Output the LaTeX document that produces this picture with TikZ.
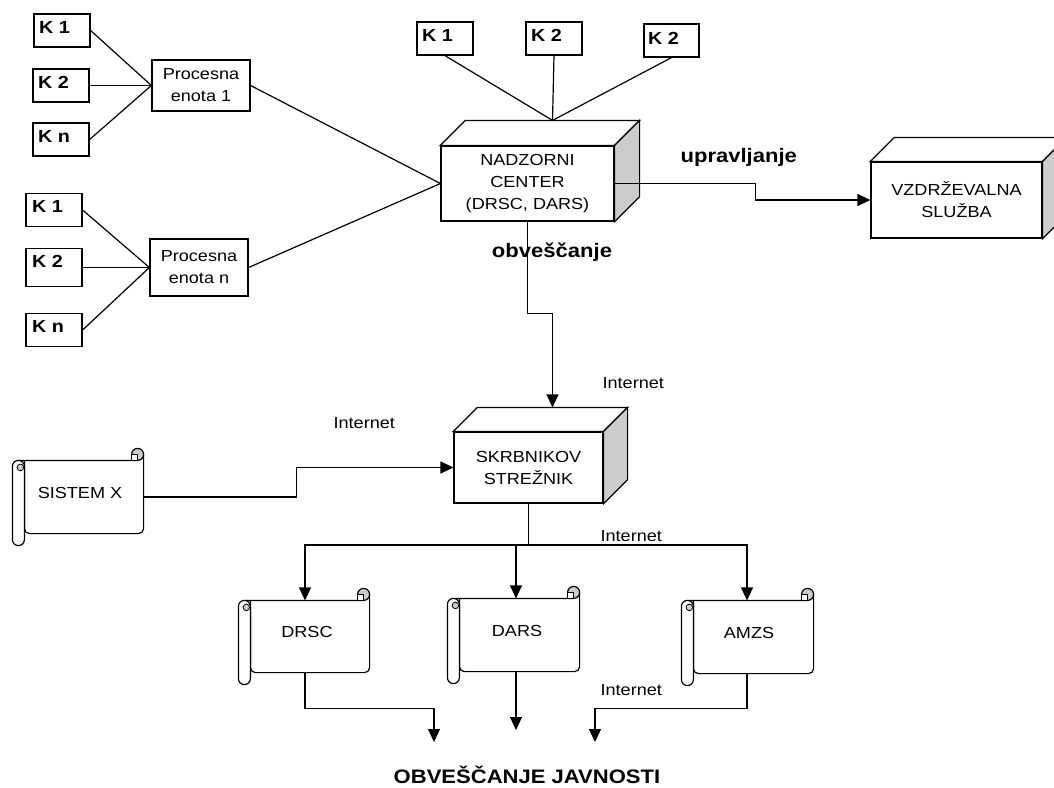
\documentclass[tikz,border=0pt]{standalone}
\usepackage{fontspec}
\setmainfont{Liberation Sans}[FakeStretch=1.13]
\usetikzlibrary{arrows.meta}

% top and right faces of a box drawn in perspective behind a front-face node
\newcommand\drawfaces[2]{%
  \draw[fill=white] (#1.north west) -- ++(#2,-#2) -- ([shift={(#2,-#2)}]#1.north east) -- (#1.north east) -- cycle;
  \draw[sideface] (#1.north east) -- ++(#2,-#2) -- ([shift={(#2,-#2)}]#1.south east) -- (#1.south east) -- cycle;
}

% rolled-paper decoration around a sheet node: curl at top right, roll at the left
\newcommand\scrolldeco[1]{%
  \draw[fill=white] ([shift={(-6,0)}]#1.north west) -- ([shift={(-6,0)}]#1.north east)
     -- ([shift={(-6,-6)}]#1.north east) -- ([shift={(0,-6)}]#1.north east)
     [rounded corners=5pt] -- (#1.south east) -- (#1.south west)
     [sharp corners] -- (#1.north west) -- cycle;
  \draw[fill=gray!40] ([shift={(-6,-6)}]#1.north east) circle[radius=6pt];
  \draw[fill=white] ([shift={(-12,-6)}]#1.north east) rectangle ([shift={(-6,0)}]#1.north east);
  \draw[fill=white, rounded corners=6pt] ([shift={(-12,0)}]#1.north west) rectangle ([shift={(0,12)}]#1.south west);
  \draw[fill=gray!40, line width=0.8pt] ([shift={(-4,7)}]#1.north west) circle[radius=3.3pt];
}

\begin{document}
\begin{tikzpicture}[x=1pt, y=-1pt, line width=1.2pt,
  box/.style={draw, fill=white, inner sep=0pt, align=center,
    font=\fontsize{16}{22}\selectfont},
  kbox/.style={draw, fill=white, inner sep=0pt, minimum width=56pt, minimum height=33pt},
  ktext/.style={anchor=base west, inner sep=0pt, font=\bfseries\fontsize{17.5}{21}\selectfont},
  sheet/.style={inner sep=0pt, align=center, font=\fontsize{16}{22}\selectfont},
  sideface/.style={draw, fill=gray!40},
  lbl/.style={inner sep=0pt, font=\fontsize{16}{22}\selectfont},
  blbl/.style={inner sep=0pt, font=\bfseries\fontsize{19.5}{22}\selectfont},
  arr/.style={-{Triangle[length=13pt,width=12pt]}},
]
\useasboundingbox (0,0) rectangle (1054,787);
\fill[white] (0,0) rectangle (1054,787);
\clip (0,0) rectangle (1054,787);

% ---- sensor groups and processing units
\node[kbox] (a1) at (62,30.5) {};
\node[kbox] (a2) at (61,85.5) {};
\node[kbox] (a3) at (61,139.5) {};
\node[ktext] (a1t) at ([shift={(5,20)}]a1.north west) {K 1};
\node[ktext] (a2t) at ([shift={(5,20)}]a2.north west) {K 2};
\node[ktext] (a3t) at ([shift={(5,20)}]a3.north west) {K n};
\node[box, minimum width=98pt, minimum height=51pt] (p1) at (201,85.5) {Procesna\\enota 1};

\node[kbox] (b1) at (54,210) {};
\node[kbox, minimum height=38pt] (b2) at (54,267.5) {};
\node[kbox] (b3) at (54,330) {};
\node[ktext] (b1t) at ([shift={(6,20)}]b1.north west) {K 1};
\node[ktext] (b2t) at ([shift={(6,20)}]b2.north west) {K 2};
\node[ktext] (b3t) at ([shift={(6,20)}]b3.north west) {K n};
\node[box, minimum width=98pt, minimum height=57pt] (pn) at (199,267.5) {Procesna\\enota n};

\foreach \k in {a1,a2,a3} \draw (\k.east) -- (p1.west);
\foreach \k in {b1,b2,b3} \draw (\k.east) -- (pn.west);

% ---- control centre
\node[kbox] (c1) at (445,38.5) {};
\node[kbox] (c2) at (554,38.5) {};
\node[kbox, minimum width=55pt] (c3) at (671.5,40.5) {};
\node[ktext] (c1t) at ([shift={(5,20)}]c1.north west) {K 1};
\node[ktext] (c2t) at ([shift={(5,20)}]c2.north west) {K 2};
\node[ktext] (c3t) at ([shift={(4,21)}]c3.north west) {K 2};

\node[box, minimum width=173pt, minimum height=75pt] (nc) at (527.5,183.5)
  {NADZORNI\\CENTER\\(DRSC, DARS)};
\drawfaces{nc}{25}
\coordinate (nctop) at ([shift={(25,-25)}]nc.north);
\foreach \k in {c1,c2,c3} \draw (\k.south) -- (nctop);
\draw (p1.east) -- (nc.west);
\draw (pn.east) -- (nc.west);

% ---- maintenance
\node[box, minimum width=171pt, minimum height=76pt] (vz) at (956.5,200)
  {VZDRŽEVALNA\\SLUŽBA};
\drawfaces{vz}{24}
\draw[arr] (nc.east) -- ++(141,0) |- (vz.west);
\node[blbl, anchor=west] (upr) at (680,157) {upravljanje};

% ---- custodian server
\node[box, minimum width=149pt, minimum height=71pt] (sk) at (528.5,467.5)
  {SKRBNIKOV\\STREŽNIK};
\drawfaces{sk}{24}
\coordinate (sktop) at ([shift={(24,-24)}]sk.north);
\draw[arr] (nc.south) -- ++(0,92) -| (sktop);
\node[blbl, anchor=base] (obv) at (552,257) {obveščanje};
\node[lbl, anchor=base west] (int1) at (602,388) {Internet};

% ---- external system
\node[sheet, minimum width=118pt, minimum height=72pt] (sx) at (84,497) {};
\scrolldeco{sx}
\node[lbl] (sxt) at (80,493) {SISTEM X};
\draw[arr] (sx.east) -- ++(153,0) |- (sk.west);
\node[lbl, anchor=base west] (int2) at (333,428) {Internet};

% ---- distribution to operators
\node[sheet, minimum width=118pt, minimum height=71pt] (drsc) at (310,636.5) {};
\node[sheet, minimum width=119pt, minimum height=72pt] (dars) at (519.5,635) {};
\node[sheet, minimum width=119pt, minimum height=72pt] (amzs) at (753.5,637) {};
\scrolldeco{drsc}
\scrolldeco{dars}
\scrolldeco{amzs}
\node[lbl] (drsct) at (307,632) {DRSC};
\node[lbl] (darst) at (517,631) {DARS};
\node[lbl] (amzst) at (749,633) {AMZS};

\coordinate (fan) at (528.5,545);
\coordinate (dtop) at ([xshift=-5pt]drsc.north);
\coordinate (mtop) at ([xshift=-3.5pt]dars.north);
\coordinate (atop) at ([xshift=-6.5pt]amzs.north);
\draw (sk.south) -- (fan);
\draw[arr] (fan) -| (dtop);
\draw[arr] (fan) -| (atop);
\draw[arr] (mtop |- fan) -- (mtop);
\node[lbl, anchor=base west] (int3) at (600,541) {Internet};

% ---- public information
\coordinate (out1) at (434,742);
\coordinate (out2) at (516,730);
\coordinate (out3) at (595,742);
\draw[arr] ([xshift=-5pt]drsc.south) -- ++(0,36) -| (out1);
\draw[arr] ([xshift=-3.5pt]dars.south) -- (out2);
\draw[arr] ([xshift=-6.5pt]amzs.south) -- ++(0,35) -| (out3);
\node[lbl, anchor=base west] (int4) at (600,695) {Internet};
\node[blbl, anchor=base] (pub) at (527,783) {OBVEŠČANJE JAVNOSTI};
\end{tikzpicture}
\end{document}
